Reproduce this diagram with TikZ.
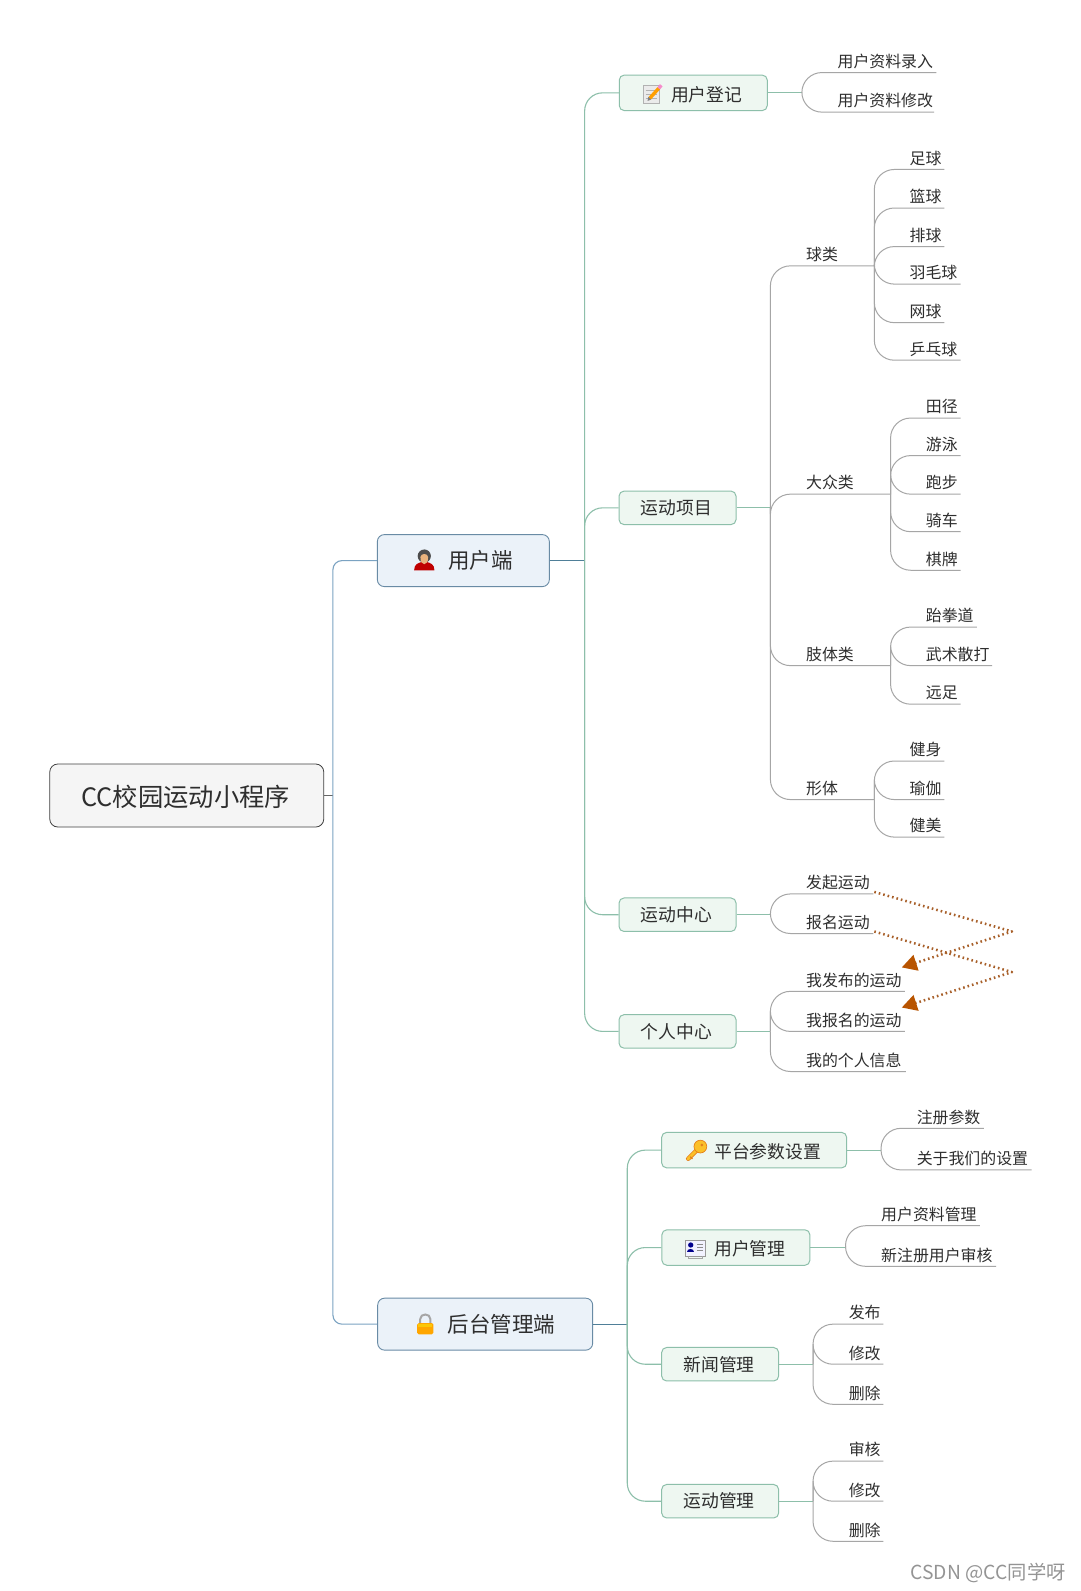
\documentclass[tikz,border=0pt]{standalone}
\usepackage{fontspec}
\setmainfont{Noto Sans CJK SC}
\usetikzlibrary{arrows.meta}
\definecolor{txt}{HTML}{2E2E2E}
\definecolor{glin}{HTML}{A6A6A6}
\definecolor{grn}{HTML}{8DBFAA}
\definecolor{grnfill}{HTML}{EEF7F1}
\definecolor{blu}{HTML}{7BA3C2}
\definecolor{bludark}{HTML}{4F7F98}
\definecolor{blufill}{HTML}{EBF2F9}
\definecolor{brn}{HTML}{A8602A}
\definecolor{brntip}{HTML}{B85400}
\tikzset{
  rootbox/.style={draw=black!75,fill=black!4,rounded corners=8pt,line width=.8pt,inner sep=0pt,text=txt,
    font=\fontsize{25.3}{28}\selectfont,minimum width=274pt,minimum height=63pt,text height=24pt,text depth=3pt},
  onebox/.style={draw=blu!85!black,fill=blufill,rounded corners=7pt,line width=.9pt,inner sep=0pt,text=txt,
    font=\fontsize{21.5}{24}\selectfont,minimum height=52pt},
  twobox/.style={draw=grn,fill=grnfill,rounded corners=5pt,line width=1pt,inner sep=0pt,text=txt,
    font=\fontsize{17.8}{20}\selectfont},
  iconbox/.style={twobox,minimum height=35.5pt,text height=18.5pt,text depth=2.1pt},
  leafnode/.style={anchor=south west,inner xsep=0pt,inner ysep=2pt,text height=13.5pt,text depth=3pt,
    text=txt,align=left,font=\fontsize{15.9}{18}\selectfont},
  leafline/.style={draw=glin,line width=1pt,rounded corners=20pt},
  grnline/.style={draw=grn,line width=1.1pt,rounded corners=18pt},
  bluline/.style={draw=blu,line width=1.1pt,rounded corners=9pt},
  stubb/.style={draw=bludark,line width=1pt},
  stubg/.style={draw=grn,line width=1pt},
  relline/.style={draw=brn,line width=2.5pt,line join=round,dash pattern=on 1.6pt off 3pt,
    -{Triangle[length=15pt,width=16pt,fill=brntip,color=brntip]}}
}
% name, text, hub, left x, underline y, right x
\newcommand{\leaf}[6]{%
  \pgfmathsetlengthmacro{\lw}{(#6-#4)*1.015pt}%
  \node[leafnode,text width=\lw] (#1) at (#4,#5) {#2};
  \draw[leafline] (#3) |- (#1.south east);
}
\begin{document}
\begin{tikzpicture}[x=1.01502pt,y=-1.01467pt]
\useasboundingbox (0,0) rectangle (1065,1568);
\fill[white] (0,0) rectangle (1065,1568);

% main boxes
\node[rootbox] (root) at (184,784) {\hspace*{-2pt}CC校园运动小程序};
\node[onebox,minimum width=172pt] (user) at (456.5,552.5) {\hspace*{34pt}用户端};
\node[onebox,minimum width=215pt] (admin) at (478,1305) {\hspace*{33pt}后台管理端};

\node[iconbox,minimum width=148pt] (reg) at (683,91.5) {\hspace*{27pt}用户登记};
\node[twobox,minimum width=117pt,minimum height=33.5pt] (sport) at (667.5,500.5) {\hspace*{-2pt}运动项目};
\node[twobox,minimum width=117pt,minimum height=33.5pt] (center) at (667.5,901.5) {\hspace*{-2pt}运动中心};
\node[twobox,minimum width=117pt,minimum height=33.5pt] (mine) at (667.5,1016.5) {\hspace*{-2pt}个人中心};

\node[iconbox,minimum width=185pt] (param) at (743,1133.5) {\hspace*{27pt}平台参数设置};
\node[iconbox,minimum width=148pt] (umgr) at (725,1229.5) {\hspace*{28pt}用户管理};
\node[twobox,minimum width=117pt,minimum height=33.5pt] (news) at (709.5,1344.5) {\hspace*{-2pt}新闻管理};
\node[twobox,minimum width=117pt,minimum height=33.5pt] (smgr) at (709.5,1479.5) {\hspace*{-2pt}运动管理};

% hubs
\coordinate (hroot) at (328,784);
\coordinate (huser) at (576,552.5);
\coordinate (hadmin) at (618,1305);
\coordinate (hreg) at (790,91.5);
\coordinate (hsport) at (759,500.5);
\coordinate (hcenter) at (759,901.5);
\coordinate (hmine) at (759,1016.5);
\coordinate (hparam) at (868,1133.5);
\coordinate (humgr) at (833,1229.5);
\coordinate (hnews) at (801,1344.5);
\coordinate (hsmgr) at (801,1479.5);

% trunk connectors
\draw[draw=black!60,line width=.9pt] (root.east) -- (hroot);
\draw[bluline] (hroot) |- (user.west);
\draw[bluline] (hroot) |- (admin.west);
\draw[stubb] (user.east) -- (huser);
\draw[stubb] (admin.east) -- (hadmin);
\draw[grnline] (huser) |- (reg.west);
\draw[grnline] (huser) |- (sport.west);
\draw[grnline] (huser) |- (center.west);
\draw[grnline] (huser) |- (mine.west);
\draw[grnline] (hadmin) |- (param.west);
\draw[grnline] (hadmin) |- (umgr.west);
\draw[grnline] (hadmin) |- (news.west);
\draw[grnline] (hadmin) |- (smgr.west);
\foreach \a/\b in {reg/hreg,sport/hsport,center/hcenter,mine/hmine,param/hparam,umgr/humgr,news/hnews,smgr/hsmgr}
  \draw[stubg] (\a.east) -- (\b);

% user registration
\leaf{ra}{用户资料录入}{hreg}{825}{71.5}{922}
\leaf{rb}{用户资料修改}{hreg}{825}{110.5}{920}

% sports categories
\leaf{qiu}{球类}{hsport}{794}{262}{861}
\leaf{dz}{大众类}{hsport}{794}{487}{877}
\leaf{zt}{肢体类}{hsport}{794}{656}{877}
\leaf{xt}{形体}{hsport}{794}{788}{861}

\leaf{q1}{足球}{qiu.south east}{896}{167}{930}
\leaf{q2}{篮球}{qiu.south east}{896}{205}{930}
\leaf{q3}{排球}{qiu.south east}{896}{243}{930}
\leaf{q4}{羽毛球}{qiu.south east}{896}{280}{946}
\leaf{q5}{网球}{qiu.south east}{896}{318}{930}
\leaf{q6}{乒乓球}{qiu.south east}{896}{355}{946}

\leaf{d1}{田径}{dz.south east}{912}{412}{946}
\leaf{d2}{游泳}{dz.south east}{912}{449}{946}
\leaf{d3}{跑步}{dz.south east}{912}{487}{946}
\leaf{d4}{骑车}{dz.south east}{912}{524}{946}
\leaf{d5}{棋牌}{dz.south east}{912}{562}{946}

\leaf{z1}{跆拳道}{zt.south east}{912}{618}{962}
\leaf{z2}{武术散打}{zt.south east}{912}{656}{977}
\leaf{z3}{远足}{zt.south east}{912}{694}{946}

\leaf{x1}{健身}{xt.south east}{896}{750}{930}
\leaf{x2}{瑜伽}{xt.south east}{896}{788}{930}
\leaf{x3}{健美}{xt.south east}{896}{825}{930}

% sport centre
\leaf{c1}{发起运动}{hcenter}{794}{881}{860}
\leaf{c2}{报名运动}{hcenter}{794}{920}{860}

% personal centre
\leaf{m1}{我发布的运动}{hmine}{794}{977}{891}
\leaf{m2}{我报名的运动}{hmine}{794}{1016.5}{891}
\leaf{m3}{我的个人信息}{hmine}{794}{1056}{892}

% admin leaves
\leaf{p1}{注册参数}{hparam}{903}{1112}{969}
\leaf{p2}{关于我们的设置}{hparam}{903}{1153}{1016}
\leaf{u1}{用户资料管理}{humgr}{868}{1208}{965}
\leaf{u2}{新注册用户审核}{humgr}{868}{1248}{981}
\leaf{n1}{发布}{hnews}{836}{1305}{870}
\leaf{n2}{修改}{hnews}{836}{1344.5}{870}
\leaf{n3}{删除}{hnews}{836}{1384}{870}
\leaf{s1}{审核}{hsmgr}{836}{1440}{870}
\leaf{s2}{修改}{hsmgr}{836}{1479.5}{870}
\leaf{s3}{删除}{hsmgr}{836}{1519}{870}

% relationships
\coordinate (ra1) at (997,918);
\coordinate (ra2) at (997,958);
\draw[relline] ([shift={(1pt,2pt)}]c1.south east) -- (ra1) -- ([shift={(-3pt,3pt)}]m1.north east);
\draw[relline] ([shift={(1pt,2pt)}]c2.south east) -- (ra2) -- ([shift={(-3pt,3pt)}]m2.north east);

% icon: note and pencil
\begin{scope}[shift={(643,92)}]
  \fill[white!92!black,draw=black!30,line width=.5pt] (-9,-8) rectangle (6,10);
  \foreach \v in {-3,1,5} \draw[black!30,line width=.5pt] (-7,\v) -- (4,\v);
  \draw[orange!75!yellow,line width=3.4pt] (-3,5) -- (6,-5);
  \draw[magenta!45!white,line width=3.4pt] (6,-5) -- (8.5,-8);
  \fill[black!50] (-5,7.5) -- (-4.4,3.4) -- (-1.4,6) -- cycle;
\end{scope}

% icon: person
\begin{scope}[shift={(418,552)}]
  \fill[red!75!black] (-10,10) .. controls (-10,4) and (-6,3) .. (-3,2) -- (3,2) .. controls (6,3) and (10,4) .. (10,10) -- cycle;
  \fill[black!70] (0,-4) circle (6.5);
  \fill[brown!60!orange!60!white] (-3.8,-3) .. controls (-3.5,-7) and (3.5,-7) .. (3.8,-3) .. controls (3.8,2) and (2,4) .. (0,4) .. controls (-2,4) and (-3.8,2) .. (-3.8,-3) -- cycle;
\end{scope}

% icon: lock
\begin{scope}[shift={(419,1305)}]
  \draw[black!35,line width=2pt] (-5,0) -- (-5,-5) .. controls (-5,-11) and (5,-11) .. (5,-5) -- (5,0);
  \fill[orange!70!yellow,rounded corners=1.5pt] (-8,-1) rectangle (8,10);
  \fill[yellow!60!orange] (-7,0) rectangle (7,3);
\end{scope}

% icon: key
\begin{scope}[shift={(686,1134)}]
  \draw[orange!60!brown,line width=4.4pt,line cap=round] (-8,8) -- (3,-3);
  \draw[yellow!45!orange!85!white,line width=2.8pt,line cap=round] (-8,8) -- (3,-3);
  \fill[yellow!45!orange!85!white,draw=orange!60!brown,line width=.7pt] (4,-4) circle (6.3);
  \fill[orange!55!brown] (5.5,-5.5) circle (1.5);
  \draw[orange!60!brown,line width=1.2pt] (-6,6) -- (-3.8,8.2);
\end{scope}

% icon: id card
\begin{scope}[shift={(685,1230)}]
  \fill[blue!5,draw=black!40,line width=.6pt] (-10,-8) rectangle (10,8);
  \fill[blue!55!black] (-4.5,-3) circle (2.6);
  \fill[blue!55!black] (-8,4) .. controls (-8,0) and (-1,0) .. (-1,4) -- cycle;
  \foreach \v in {-4,-1,2} \draw[black!45,line width=.7pt] (2,\v) -- (8,\v);
  \draw[black!35,line width=.6pt] (-7,8) -- (-7,10) -- (7,10) -- (7,8);
\end{scope}

% watermark
\node[text=black!42,anchor=west,inner sep=0pt,font=\fontsize{19.3}{21}\selectfont] (wm) at (897,1550) {CSDN @CC同学呀};
\end{tikzpicture}
\end{document}
